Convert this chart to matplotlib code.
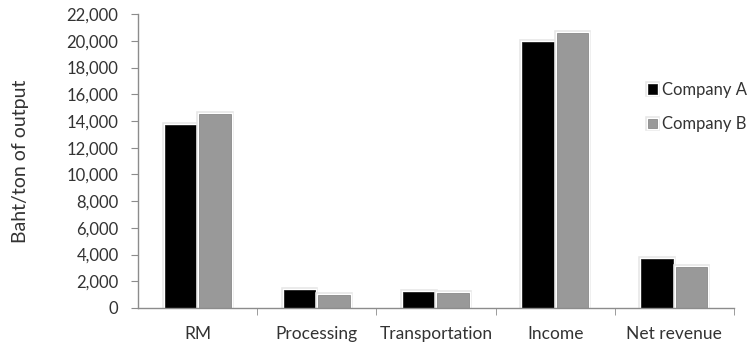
import matplotlib
matplotlib.use("Agg")
import matplotlib.pyplot as plt
import matplotlib.patheffects as pe
from matplotlib.ticker import FuncFormatter, MultipleLocator
import numpy as np

categories = ["RM", "Processing", "Transportation", "Income", "Net revenue"]
company_a = [13700, 1350, 1200, 19900, 3650]
company_b = [14500, 950, 1100, 20600, 3050]
series_names = ["Company A", "Company B"]
ylabel = "Baht/ton of output"

plt.rcParams["font.family"] = ["Lato", "DejaVu Sans"]
text_color = "#333333"
spine_color = "#8c8c8c"

fig = plt.figure(figsize=(7.52, 3.52), dpi=100)
ax = fig.add_axes([0.1835, 0.125, 0.7925, 0.835])

x = np.arange(len(categories))
w = 0.265
glow = [pe.Stroke(linewidth=4, foreground="#e6e6e6"),
        pe.Stroke(linewidth=2.5, foreground="white"),
        pe.Normal()]
bars_a = ax.bar(x - w / 2 - 0.012, company_a, w, color="black",
                edgecolor="#222222", linewidth=0.6, label=series_names[0])
bars_b = ax.bar(x + w / 2 + 0.012, company_b, w, color="#999999",
                edgecolor="#8a8a8a", linewidth=0.6, label=series_names[1])
for b in list(bars_a) + list(bars_b):
    b.set_path_effects(glow)

ax.set_xlim(-0.5, len(categories) - 0.5)
ax.set_ylim(0, 22000)
ax.yaxis.set_major_locator(MultipleLocator(2000))
ax.yaxis.set_major_formatter(FuncFormatter(lambda v, p: f"{int(v):,}"))

ax.set_xticks(x)
ax.set_xticklabels(categories)
ax.set_xticks(np.arange(len(categories)) + 0.5, minor=True)
ax.tick_params(axis="x", which="major", length=0, pad=13,
               labelsize=12.5, labelcolor=text_color)
ax.tick_params(axis="x", which="minor", length=5, color=spine_color,
               direction="out")
ax.tick_params(axis="y", length=5, color=spine_color, direction="out",
               labelsize=12, labelcolor=text_color, pad=9)

for s in ["top", "right"]:
    ax.spines[s].set_visible(False)
for s in ["left", "bottom"]:
    ax.spines[s].set_color(spine_color)
    ax.spines[s].set_linewidth(1.0)

ax.set_ylabel(ylabel, fontsize=14, color=text_color)
ax.yaxis.set_label_coords(-0.183, 0.5)

leg = fig.legend(handles=[bars_a, bars_b], labels=series_names,
                 loc="center left", bbox_to_anchor=(0.862, 0.696),
                 frameon=False, fontsize=12, handlelength=0.5,
                 handleheight=0.5, handletextpad=0.3, labelspacing=1.1,
                 labelcolor=text_color, borderpad=0, borderaxespad=0)

fig.savefig("out.png", dpi=100, facecolor="white")
